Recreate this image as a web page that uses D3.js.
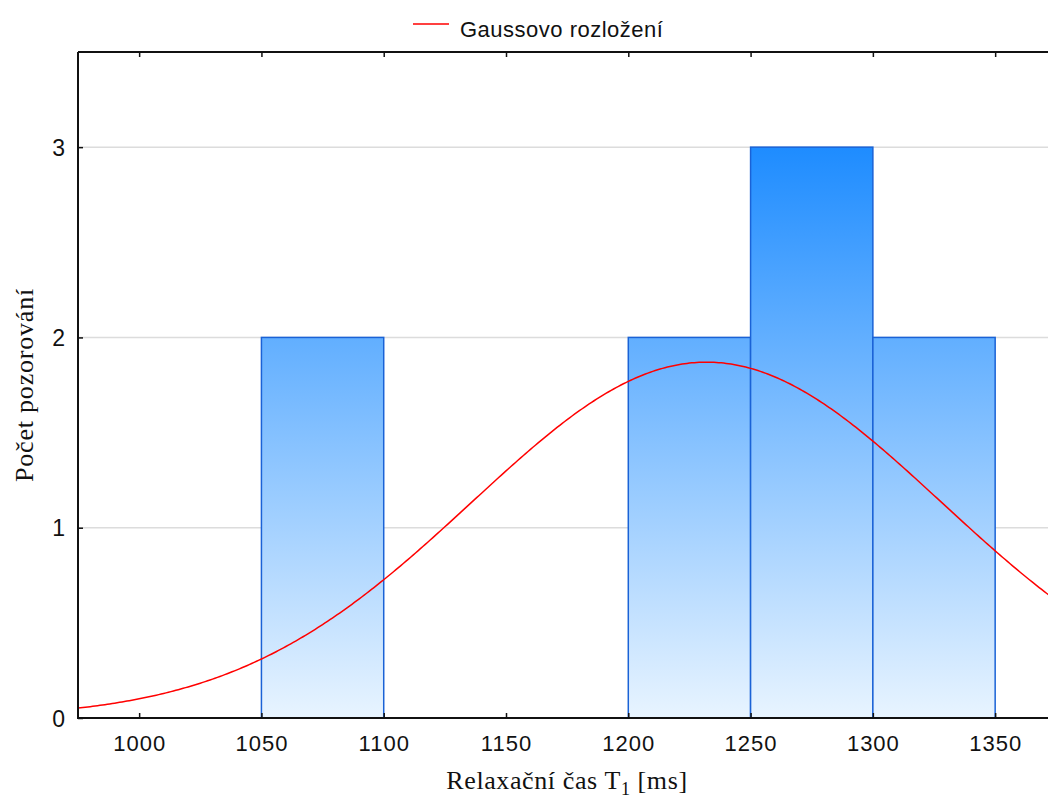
<!DOCTYPE html>
<html>
<head>
<meta charset="utf-8">
<script src="https://cdn.jsdelivr.net/npm/d3@7"></script>
<style>
  html, body { margin: 0; padding: 0; background: #fff; }
  svg { display: block; }
</style>
</head>
<body>
<svg id="chart" width="1048" height="803"></svg>
<script>
// Histogram bins (lower edge, upper edge) and observed counts
const binStarts = [1000, 1050, 1100, 1150, 1200, 1250, 1300];
const binEnds   = [1050, 1100, 1150, 1200, 1250, 1300, 1350];
const counts    = [0, 2, 0, 0, 2, 3, 2];

// Fitted normal distribution
const gaussMean = 1232;
const gaussSd = 96;

// Axis ticks
const xTicks = [1000, 1050, 1100, 1150, 1200, 1250, 1300, 1350];
const yTicks = [0, 1, 2, 3];

const legendLabel = "Gaussovo rozložení";
const yTitle = "Počet pozorování";

const W = 1048, H = 803;
const plotLeft = 78, plotTop = 52, plotBottom = 718;

const svg = d3.select("#chart");

const x = d3.scaleLinear().domain([975, 1375]).range([plotLeft, 1056.3]);
const y = d3.scaleLinear().domain([0, 3.5]).range([plotBottom, plotTop]);

// Vertical blue gradient spanning the plot height
const defs = svg.append("defs");
const grad = defs.append("linearGradient")
  .attr("id", "barFill")
  .attr("gradientUnits", "userSpaceOnUse")
  .attr("x1", 0).attr("x2", 0)
  .attr("y1", y(3)).attr("y2", y(0));
grad.append("stop").attr("offset", "0%").attr("stop-color", "#1e8cff");
grad.append("stop").attr("offset", "100%").attr("stop-color", "#e8f4ff");

defs.append("clipPath").attr("id", "plotClip")
  .append("rect").attr("x", plotLeft).attr("y", plotTop)
  .attr("width", W - plotLeft).attr("height", plotBottom - plotTop);

// Gridlines
svg.append("g")
  .selectAll("line")
  .data(yTicks.filter(d => d > 0))
  .join("line")
  .attr("x1", plotLeft).attr("x2", W)
  .attr("y1", d => y(d)).attr("y2", d => y(d))
  .attr("stroke", "#dcdcdc").attr("stroke-width", 1.5);

// Bars
const bins = binStarts.map((s, i) => ({ x0: s, x1: binEnds[i], n: counts[i] }));
svg.append("g")
  .selectAll("rect")
  .data(bins)
  .join("rect")
  .attr("x", d => x(d.x0))
  .attr("y", d => y(d.n))
  .attr("width", d => x(d.x1) - x(d.x0))
  .attr("height", d => y(0) - y(d.n))
  .attr("fill", "url(#barFill)")
  .attr("stroke", d => d.n > 0 ? "#1a62d6" : "#9fbfe8")
  .attr("stroke-width", 1.5);

// Normal curve scaled to expected counts per bin
const total = d3.sum(counts);
const binWidth = binEnds[0] - binStarts[0];
const expected = v => total * binWidth *
  Math.exp(-0.5 * ((v - gaussMean) / gaussSd) ** 2) / (gaussSd * Math.sqrt(2 * Math.PI));
const curveXs = d3.range(975, 1376, 1);
svg.append("path")
  .attr("clip-path", "url(#plotClip)")
  .datum(curveXs)
  .attr("d", d3.line().x(d => x(d)).y(d => y(expected(d))))
  .attr("fill", "none")
  .attr("stroke", "#ff0000")
  .attr("stroke-width", 1.5);

// Frame: left, top, bottom
const frame = svg.append("g").attr("stroke", "#111").attr("stroke-width", 2);
frame.append("line").attr("x1", plotLeft).attr("x2", plotLeft).attr("y1", plotTop).attr("y2", plotBottom + 1);
frame.append("line").attr("x1", plotLeft).attr("x2", W).attr("y1", plotTop).attr("y2", plotTop);
frame.append("line").attr("x1", plotLeft).attr("x2", W).attr("y1", plotBottom).attr("y2", plotBottom);

const sans = "'Liberation Sans', Arial, sans-serif";
const serif = "'Liberation Serif', 'Times New Roman', serif";

// Bottom axis (inward ticks)
const xAxis = svg.append("g")
  .attr("transform", `translate(0,${plotBottom})`)
  .call(d3.axisBottom(x).tickValues(xTicks).tickSizeInner(-5).tickSizeOuter(0).tickPadding(0).tickFormat(d3.format("d")));
xAxis.select(".domain").remove();
xAxis.selectAll(".tick line").attr("stroke", "#111").attr("stroke-width", 1.5);
xAxis.selectAll(".tick text")
  .attr("y", 33)
  .attr("dy", 0)
  .attr("fill", "#111")
  .style("font-family", sans)
  .style("font-size", "22px")
  .style("letter-spacing", "1px");

// Top ticks
const xTop = svg.append("g")
  .attr("transform", `translate(0,${plotTop})`)
  .call(d3.axisTop(x).tickValues(xTicks).tickSizeInner(-5).tickSizeOuter(0).tickFormat(""));
xTop.select(".domain").remove();
xTop.selectAll(".tick line").attr("stroke", "#111").attr("stroke-width", 1.5);

// Left axis (inward ticks)
const yAxis = svg.append("g")
  .attr("transform", `translate(${plotLeft},0)`)
  .call(d3.axisLeft(y).tickValues(yTicks).tickSizeInner(-5).tickSizeOuter(0).tickPadding(0).tickFormat(d3.format("d")));
yAxis.select(".domain").remove();
yAxis.selectAll(".tick line").attr("stroke", "#111").attr("stroke-width", 1.5);
yAxis.selectAll(".tick text")
  .attr("x", -13)
  .attr("dy", "0.36em")
  .attr("fill", "#111")
  .style("font-family", sans)
  .style("font-size", "23px");

// Axis titles
const xTitle = svg.append("text")
  .attr("x", 567).attr("y", 789)
  .attr("text-anchor", "middle")
  .attr("fill", "#111")
  .style("font-family", serif)
  .style("font-size", "26px")
  .style("letter-spacing", "0.6px");
xTitle.append("tspan").text("Relaxační čas T");
xTitle.append("tspan").attr("dy", 6).style("font-size", "18px").text("1");
xTitle.append("tspan").attr("dy", -6).text(" [ms]");

svg.append("text")
  .attr("transform", "translate(33,385) rotate(-90)")
  .attr("text-anchor", "middle")
  .attr("fill", "#111")
  .style("font-family", serif)
  .style("font-size", "26px")
  .style("letter-spacing", "0.8px")
  .text(yTitle);

// Legend
const legend = svg.append("g");
legend.append("line")
  .attr("x1", 413).attr("x2", 449).attr("y1", 24).attr("y2", 24)
  .attr("stroke", "#ff0000").attr("stroke-width", 1.5);
legend.append("text")
  .attr("x", 460).attr("y", 36.5)
  .attr("fill", "#111")
  .style("font-family", sans)
  .style("font-size", "22px")
  .style("letter-spacing", "0.5px")
  .text(legendLabel);
</script>
</body>
</html>
